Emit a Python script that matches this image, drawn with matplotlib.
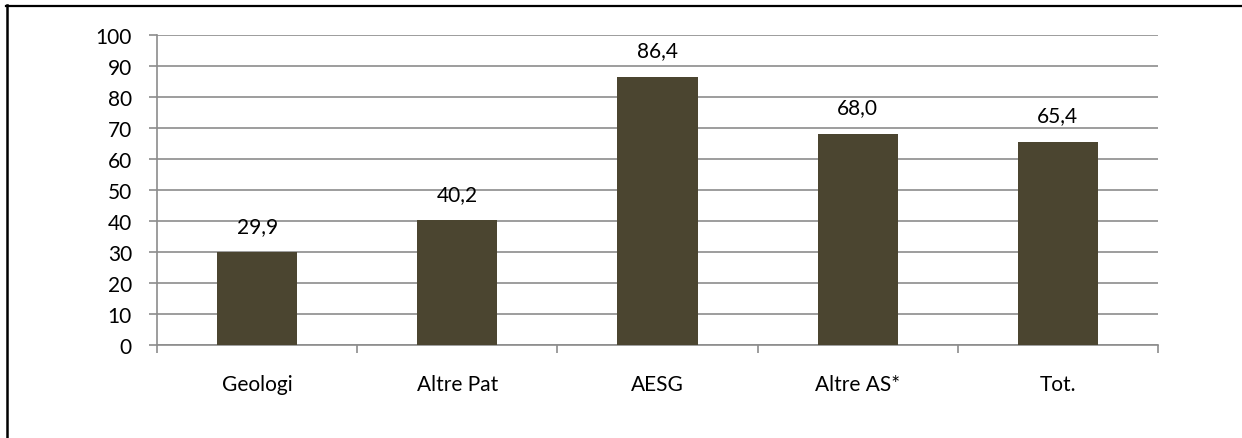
import matplotlib.pyplot as plt
from matplotlib.lines import Line2D

plt.rcParams['font.family'] = ['Lato', 'DejaVu Sans']

# dati
categorie = ['Geologi', 'Altre Pat', 'AESG', 'Altre AS*', 'Tot.']
valori = [29.9, 40.2, 86.4, 68.0, 65.4]
etichette_y = [0, 10, 20, 30, 40, 50, 60, 70, 80, 90, 100]

colore_barre = '#4B4530'
colore_griglia = '#8C8C8C'

fig = plt.figure(figsize=(12.42, 4.39), dpi=100)
ax = fig.add_axes([157 / 1242, 1 - 346 / 439, 1001 / 1242, 310 / 439])

x = list(range(len(categorie)))
barre = ax.bar(x, valori, width=0.40, color=colore_barre, zorder=3)

# etichette sopra le barre, con la virgola decimale
for b, v in zip(barre, valori):
    ax.annotate(f'{v:.1f}'.replace('.', ','),
                (b.get_x() + b.get_width() / 2, v),
                xytext=(0, 12), textcoords='offset points',
                ha='center', va='bottom', fontsize=15, color='black')

ax.set_ylim(0, 100)
ax.set_xlim(-0.5, len(categorie) - 0.5)
ax.set_yticks(etichette_y)
ax.yaxis.grid(True, color=colore_griglia, linewidth=1.2, zorder=0)

# tick dell'asse x ai confini delle categorie
ax.set_xticks([i - 0.5 for i in range(len(categorie) + 1)])
ax.set_xticklabels([])
ax.set_xticks(x, minor=True)
ax.set_xticklabels(categorie, minor=True, fontsize=15)
ax.tick_params(axis='x', which='minor', length=0, pad=21)
ax.tick_params(axis='x', which='major', length=6, width=1.2,
               color=colore_griglia, direction='out')
ax.tick_params(axis='y', length=6, width=1.2, color=colore_griglia,
               direction='out', labelsize=15, pad=12)

for lato in ['top', 'right']:
    ax.spines[lato].set_visible(False)
for lato in ['left', 'bottom']:
    ax.spines[lato].set_color(colore_griglia)
    ax.spines[lato].set_linewidth(1.2)

# cornice esterna (bordo in alto e a sinistra)
fig.add_artist(Line2D([6 / 1242, 1], [1 - 6.5 / 439, 1 - 6.5 / 439],
                      transform=fig.transFigure, color='black', linewidth=1.6))
fig.add_artist(Line2D([7 / 1242, 7 / 1242], [0, 1 - 6 / 439],
                      transform=fig.transFigure, color='black', linewidth=1.8))

fig.savefig('out.png', dpi=100)
